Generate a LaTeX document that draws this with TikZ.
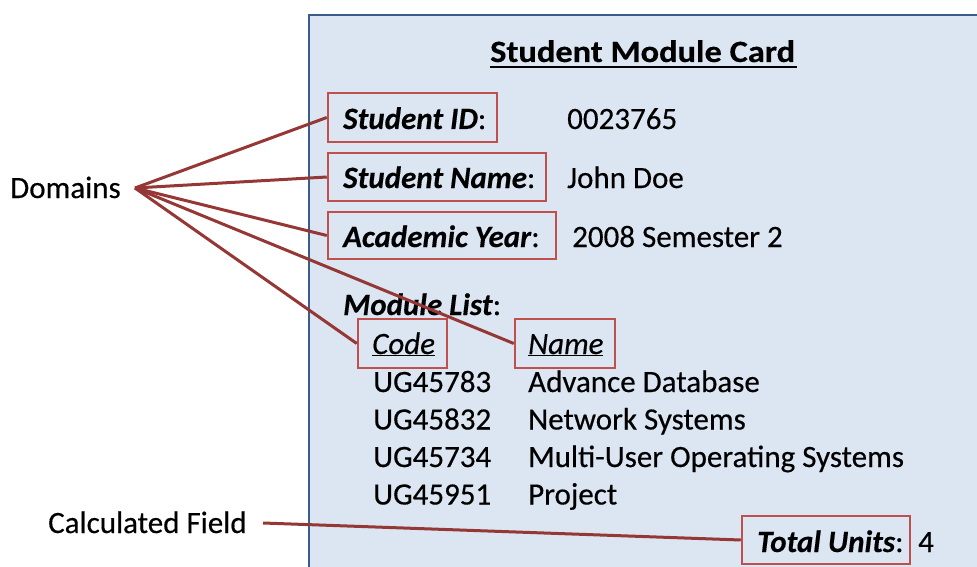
\documentclass[tikz,border=0pt]{standalone}
\usepackage{graphicx}
\usepackage{fontspec}
\setmainfont{Carlito}[UprightFeatures={FakeBold=0.4},ItalicFeatures={FakeBold=0.4},BoldFeatures={FakeBold=0.3},BoldItalicFeatures={FakeBold=0.3}]
\definecolor{cardfill}{HTML}{DCE6F2}
\definecolor{cardedge}{HTML}{385D8A}
\definecolor{boxred}{HTML}{C0504D}
\definecolor{linered}{HTML}{953735}
\begin{document}
\begin{tikzpicture}[x=1pt,y=-1pt,
  lab/.style={anchor=base west,inner sep=0pt,font=\fontsize{31}{37}\selectfont},
  fbox/.style={draw=boxred,line width=2.5pt,inner sep=0pt},
  conn/.style={draw=linered,line width=3pt}]
\useasboundingbox (0,0) rectangle (977,567);
\clip (0,0) rectangle (977,567);
% card
\draw[fill=cardfill,draw=cardedge,line width=2.5pt] (309,15) rectangle (1000,600);
% title
\node[lab,font=\fontsize{31}{37}\selectfont\bfseries] (title) at (490,62) {\scalebox{1.11}[1]{Student Module Card}};
\draw[line width=2pt] (title.base west) ++(0,5) -- ++(307,0);
% framed field boxes
\node[fbox,minimum width=169pt,minimum height=49pt] (bid) at (412.5,117.5) {};
\node[fbox,minimum width=218pt,minimum height=48pt] (bname) at (437,177) {};
\node[fbox,minimum width=228pt,minimum height=47pt] (byear) at (442,235.5) {};
\node[fbox,minimum width=89pt,minimum height=49pt] (bcode) at (402.5,343.5) {};
\node[fbox,minimum width=100pt,minimum height=49pt] (bmname) at (565,343.5) {};
\node[fbox,minimum width=168pt,minimum height=48pt] (btotal) at (826,540) {};
% field labels
\node[lab] (tid) at (343,129) {\textbf{\textit{Student ID}}:};
\node[lab] (tname) at (343,188) {\textbf{\textit{Student Name}}:};
\node[lab] (tyear) at (343,247) {\textbf{\textit{Academic Year}}:};
\node[lab] (tlist) at (343,315) {\textbf{\textit{Module List}}:};
\node[lab] (tcode) at (372,354) {\underline{\textit{Code}}};
\node[lab] (tmname) at (528,354) {\underline{\textit{Name}}};
\node[lab] (ttotal) at (757,552) {\textbf{\textit{Total Units}}:};
% values
\node[lab] (vid) at (567,129) {0023765};
\node[lab] (vname) at (567,188) {John Doe};
\node[lab] (vyear) at (572,247) {2008 Semester 2};
\node[lab] (c1) at (373,392) {UG45783};
\node[lab] (n1) at (528,392) {Advance Database};
\node[lab] (c2) at (373,429.5) {UG45832};
\node[lab] (n2) at (528,429.5) {Network Systems};
\node[lab] (c3) at (373,467) {UG45734};
\node[lab] (n3) at (528,467) {Multi-User Operating Systems};
\node[lab] (c4) at (373,504.5) {UG45951};
\node[lab] (n4) at (528,504.5) {Project};
\node[lab] (vtotal) at (918,552) {4};
% side labels
\node[lab] (dom) at (10,198) {Domains};
\coordinate (domc) at (135,188);
\node[lab] (calc) at (48,533) {Calculated Field};
\coordinate (calcc) at (263,523);
% connectors
\draw[conn] (domc) -- (bid.west);
\draw[conn] (domc) -- (bname.west);
\draw[conn] (domc) -- (byear.west);
\draw[conn] (domc) -- (bcode.west);
\draw[conn] (domc) -- (bmname.west);
\draw[conn] (calcc) -- (btotal.west);
\end{tikzpicture}
\end{document}
